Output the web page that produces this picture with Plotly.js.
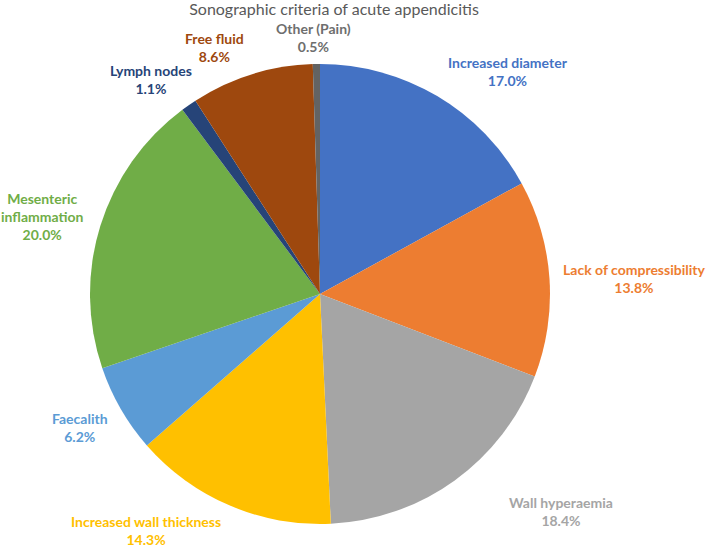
<!DOCTYPE html>
<html>
<head>
<meta charset="utf-8">
<script src="https://cdn.plot.ly/plotly-3.0.1.min.js"></script>
<style>html,body{margin:0;padding:0;background:#fff;}#chart{width:709px;height:551px;}</style>
</head>
<body>
<div id="chart"></div>
<script>
const categories = ['Increased diameter', 'Lack of compressibility', 'Wall hyperaemia', 'Increased wall thickness', 'Faecalith', 'Mesenteric inflammation', 'Lymph nodes', 'Free fluid', 'Other (Pain)'];
const values = [17.0, 13.8, 18.4, 14.3, 6.2, 20.0, 1.1, 8.6, 0.5];
const colors = ['#4472C4', '#ED7D31', '#A5A5A5', '#FFC000', '#5B9BD5', '#70AD47', '#264478', '#9E480E', '#636363'];
const labelColors = ['#4472C4', '#ED7D31', '#A5A5A5', '#FFC000', '#5B9BD5', '#70AD47', '#264478', '#9E480E', '#6E6E6E'];
// label anchor positions (paper pixels) for data labels
const labelPos = [[508, 71], [634, 278], [561, 511], [146, 530], [80, 428], [42, 217], [151, 80], [215, 47], [313, 37]];

const W = 709, H = 551;
const cx = 320, cy = 294, r = 230;

const annotations = categories.map((c, i) => {
  const name = c === 'Mesenteric inflammation' ? 'Mesenteric<br>inflammation' : c;
  return {
    text: '<b>' + name + '<br>' + values[i].toFixed(1) + '%</b>',
    x: labelPos[i][0] / W, y: 1 - labelPos[i][1] / H,
    xref: 'paper', yref: 'paper', xanchor: 'center', yanchor: 'middle',
    showarrow: false, align: 'center',
    font: {family: 'Lato, sans-serif', size: 14, color: labelColors[i]}
  };
});

const data = [{
  type: 'pie',
  labels: categories,
  values: values,
  sort: false,
  direction: 'clockwise',
  rotation: 0,
  marker: {colors: colors, line: {width: 0}},
  textinfo: 'none',
  hoverinfo: 'label+percent',
  showlegend: false,
  domain: {x: [(cx - r) / W, (cx + r) / W], y: [1 - (cy + r) / H, 1 - (cy - r) / H]}
}];

const layout = {
  width: W, height: H,
  margin: {l: 0, r: 0, t: 0, b: 0},
  paper_bgcolor: '#fff',
  title: {text: 'Sonographic criteria of acute appendicitis', x: 334 / W, xanchor: 'center', y: 1 - 9 / H, yanchor: 'middle',
          font: {family: 'Lato, sans-serif', size: 16, color: '#595959'}},
  annotations: annotations,
  showlegend: false
};

Plotly.newPlot('chart', data, layout, {displayModeBar: false});
</script>
</body>
</html>
